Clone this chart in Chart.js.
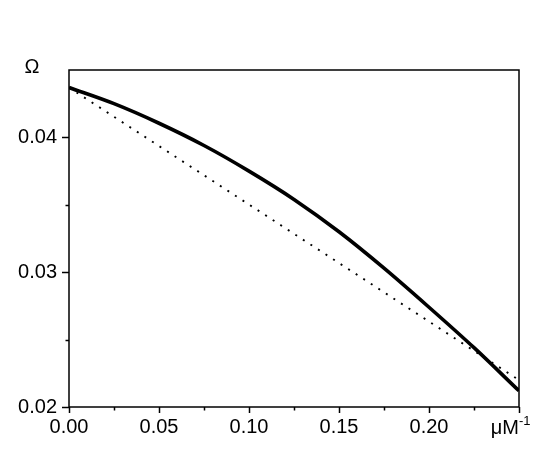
<!DOCTYPE html>
<html>
<head>
<meta charset="utf-8">
<script src="https://cdn.jsdelivr.net/npm/chart.js@4/dist/chart.umd.min.js"></script>
<style>
  html, body { margin: 0; padding: 0; background: #fff; }
  #wrap { width: 554px; height: 465px; }
</style>
</head>
<body>
<div id="wrap"><canvas id="c" width="554" height="465"></canvas></div>
<script>
// ---- data ----
const solidX = [0, 0.025, 0.05, 0.075, 0.1, 0.125, 0.15, 0.175, 0.2, 0.225, 0.25];
const solidOmega = [0.0437, 0.0425, 0.04105, 0.0394, 0.0375, 0.0354, 0.0330, 0.0303, 0.0274, 0.0244, 0.0212];
const dottedX = [0, 0.25];
const dottedOmega = [0.0437, 0.0220];

const xMajorTicks = [0, 0.05, 0.10, 0.15, 0.20, 0.25];
const xMinorTicks = [0.025, 0.075, 0.125, 0.175, 0.225];
const xTickLabels = ['0.00', '0.05', '0.10', '0.15', '0.20', ''];
const yMajorTicks = [0.02, 0.03, 0.04];
const yMinorTicks = [0.025, 0.035];
const yTickLabels = ['0.02', '0.03', '0.04'];
const xUnit = 'μM';
const xUnitExp = '-1';
const yTitle = 'Ω';

const FONT = '"Liberation Sans", Arial, Helvetica, sans-serif';

const decorPlugin = {
  id: 'decor',
  afterDraw(chart) {
    const ctx = chart.ctx;
    const a = chart.chartArea;
    const xs = chart.scales.x, ys = chart.scales.y;
    ctx.save();
    ctx.strokeStyle = '#000';
    ctx.lineWidth = 1.5;
    ctx.strokeRect(a.left, a.top, a.right - a.left, a.bottom - a.top);
    // minor ticks
    ctx.beginPath();
    xMinorTicks.forEach(v => {
      const px = Math.round(xs.getPixelForValue(v)) + 0.5;
      ctx.moveTo(px, a.bottom);
      ctx.lineTo(px, a.bottom + 3.5);
    });
    yMinorTicks.forEach(v => {
      const py = Math.round(ys.getPixelForValue(v)) + 0.5;
      ctx.moveTo(a.left, py);
      ctx.lineTo(a.left - 3.5, py);
    });
    ctx.stroke();
    // x unit label at last tick position
    ctx.fillStyle = '#000';
    const ux = xs.getPixelForValue(0.25);
    ctx.font = '20px ' + FONT;
    ctx.textAlign = 'right';
    ctx.textBaseline = 'alphabetic';
    ctx.fillText(xUnit, ux, 434);
    ctx.font = '13px ' + FONT;
    ctx.textAlign = 'left';
    ctx.fillText(xUnitExp, ux, 425);
    // y title
    ctx.font = '20px ' + FONT;
    ctx.textAlign = 'center';
    ctx.fillText(yTitle, a.left - 37, a.top + 3);
    ctx.restore();
  }
};

new Chart(document.getElementById('c'), {
  type: 'scatter',
  data: {
    datasets: [
      {
        data: solidX.map((x, i) => ({ x, y: solidOmega[i] })),
        showLine: true,
        borderColor: '#000',
        borderWidth: 3.6,
        pointRadius: 0,
        cubicInterpolationMode: 'monotone',
        fill: false
      },
      {
        data: dottedX.map((x, i) => ({ x, y: dottedOmega[i] })),
        showLine: true,
        borderColor: '#000',
        borderWidth: 1.9,
        borderDash: [2, 7],
        pointRadius: 0,
        fill: false
      }
    ]
  },
  options: {
    responsive: false,
    animation: false,
    devicePixelRatio: 1,
    layout: { padding: { top: 70, right: 35, left: 0, bottom: 0 } },
    plugins: { legend: { display: false }, tooltip: { enabled: false } },
    scales: {
      x: {
        type: 'linear',
        min: 0, max: 0.25,
        afterBuildTicks: s => { s.ticks = xMajorTicks.map(v => ({ value: v })); },
        afterFit: s => { s.height = 58; },
        grid: { display: true, drawOnChartArea: false, drawTicks: true, tickLength: 6, tickColor: '#000', tickWidth: 1.5 },
        border: { display: false },
        ticks: {
          autoSkip: false, maxRotation: 0, padding: 2, color: '#000',
          font: { family: FONT, size: 20 },
          callback: (v) => { const i = xMajorTicks.findIndex(t => Math.abs(t - v) < 1e-9); return i >= 0 ? xTickLabels[i] : ''; }
        }
      },
      y: {
        type: 'linear',
        min: 0.02, max: 0.045,
        afterBuildTicks: s => { s.ticks = yMajorTicks.map(v => ({ value: v })); },
        afterFit: s => { s.width = 69; },
        grid: { display: true, drawOnChartArea: false, drawTicks: true, tickLength: 7, tickColor: '#000', tickWidth: 1.5 },
        border: { display: false },
        ticks: {
          autoSkip: false, padding: 5, color: '#000',
          font: { family: FONT, size: 20 },
          callback: (v) => { const i = yMajorTicks.findIndex(t => Math.abs(t - v) < 1e-9); return i >= 0 ? yTickLabels[i] : ''; }
        }
      }
    }
  },
  plugins: [decorPlugin]
});
</script>
</body>
</html>
